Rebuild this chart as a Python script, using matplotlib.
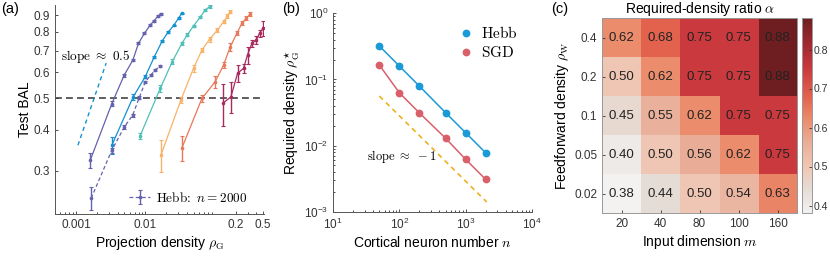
import matplotlib
matplotlib.use("Agg")
import matplotlib.pyplot as plt
from matplotlib.colors import LinearSegmentedColormap
from matplotlib.lines import Line2D
from matplotlib.ticker import FixedLocator, LogLocator, NullFormatter, NullLocator

plt.rcParams["font.family"] = ["Liberation Sans", "DejaVu Sans"]
plt.rcParams["mathtext.fontset"] = "cm"
plt.rcParams["font.size"] = 8.5
plt.rcParams["axes.linewidth"] = 0.7

# ---- panel (a): test BAL vs projection density, SGD for several n, Hebb n=2000
sgd_2000_rho = [0.00161, 0.0033, 0.00497, 0.00662, 0.00798, 0.00973, 0.01178, 0.01343, 0.0152, 0.01694]
sgd_2000_bal = [0.323, 0.482, 0.589, 0.655, 0.737, 0.791, 0.839, 0.864, 0.894, 0.906]
sgd_2000_err = [0.018, 0.008, 0.006, 0.006, 0.006, 0.006, 0.005, 0.005, 0.005, 0.005]

sgd_1000_rho = [0.0033, 0.00669, 0.00996, 0.01343, 0.01763, 0.02138, 0.02566, 0.0303, 0.03367]
sgd_1000_bal = [0.359, 0.505, 0.582, 0.669, 0.751, 0.798, 0.836, 0.882, 0.911]
sgd_1000_err = [0.021, 0.012, 0.006, 0.006, 0.006, 0.005, 0.005, 0.005, 0.005]

sgd_500_rho = [0.00839, 0.0164, 0.02443, 0.03367, 0.04018, 0.0495, 0.0618, 0.073, 0.0848]
sgd_500_bal = [0.383, 0.536, 0.647, 0.737, 0.782, 0.833, 0.887, 0.932, 0.956]
sgd_500_err = [0.008, 0.012, 0.012, 0.008, 0.008, 0.008, 0.008, 0.008, 0.008]

sgd_200_rho = [0.01679, 0.03258, 0.0495, 0.0654, 0.0842, 0.1097, 0.134, 0.1528, 0.167]
sgd_200_bal = [0.335, 0.494, 0.618, 0.703, 0.758, 0.81, 0.858, 0.894, 0.921]
sgd_200_err = [0.037, 0.01, 0.015, 0.012, 0.012, 0.012, 0.01, 0.01, 0.01]

sgd_100_rho = [0.03367, 0.0654, 0.1017, 0.134, 0.167, 0.209, 0.2466, 0.2844, 0.325]
sgd_100_bal = [0.352, 0.4995, 0.562, 0.632, 0.719, 0.791, 0.849, 0.879, 0.906]
sgd_100_err = [0.031, 0.012, 0.025, 0.012, 0.02, 0.012, 0.012, 0.012, 0.012]

sgd_50_rho = [0.1313, 0.171, 0.2133, 0.26, 0.297, 0.3436, 0.3963, 0.4424, 0.495]
sgd_50_bal = [0.483, 0.505, 0.596, 0.618, 0.679, 0.737, 0.754, 0.791, 0.819]
sgd_50_err = [0.072, 0.055, 0.035, 0.02, 0.04, 0.02, 0.02, 0.02, 0.043]

hebb_2000_rho = [0.00166, 0.0033, 0.00497, 0.00658, 0.00817, 0.00997, 0.01197, 0.0139, 0.01612]
hebb_2000_bal = [0.247, 0.347, 0.408, 0.444, 0.502, 0.561, 0.589, 0.61, 0.628]
hebb_2000_err = [0.02, 0.006, 0.005, 0.005, 0.005, 0.005, 0.005, 0.005, 0.005]

slope_x = [0.00107, 0.00273]
slope_y = [0.359, 0.641]

curve_colors = ["#6462ac", "#1591d1", "#4fc0b8", "#f8b26a", "#e8785a", "#a82a5e"]

# ---- panel (b): required density vs n
neurons = [50, 100, 200, 500, 1000, 2000]
rho_hebb = [0.32, 0.1595, 0.0795, 0.0313, 0.0156, 0.00778]
rho_sgd = [0.165, 0.0629, 0.0313, 0.01285, 0.00618, 0.00308]
ref_n = [50, 2080]
ref_rho = [0.056, 0.0014]

# ---- panel (c): required-density ratio heatmap
input_dims = ["20", "40", "80", "100", "160"]
ff_density = ["0.4", "0.2", "0.1", "0.05", "0.02"]
ratio = [
    [0.62, 0.68, 0.75, 0.75, 0.88],
    [0.50, 0.62, 0.75, 0.75, 0.88],
    [0.45, 0.55, 0.62, 0.75, 0.75],
    [0.40, 0.50, 0.56, 0.62, 0.75],
    [0.38, 0.44, 0.50, 0.54, 0.63],
]

W, H = 830, 258
fig = plt.figure(figsize=(W / 100, H / 100), dpi=100)


def box(l, t, r, b):
    return [l / W, 1 - b / H, (r - l) / W, (b - t) / H]


# ================= (a)
ax = fig.add_axes(box(55, 5, 264.4, 214))
ax.set_xscale("log")
ax.set_yscale("log")

ax.axhline(0.5, color="#333333", lw=1.1, ls=(0, (4.5, 2.7)), zorder=1)
ax.plot(slope_x, slope_y, color="#1591d1", lw=1.0, ls=(0, (3, 2.5)))

curves = [
    (sgd_2000_rho, sgd_2000_bal, sgd_2000_err),
    (sgd_1000_rho, sgd_1000_bal, sgd_1000_err),
    (sgd_500_rho, sgd_500_bal, sgd_500_err),
    (sgd_200_rho, sgd_200_bal, sgd_200_err),
    (sgd_100_rho, sgd_100_bal, sgd_100_err),
    (sgd_50_rho, sgd_50_bal, sgd_50_err),
]
for (r, b, e), c in zip(curves, curve_colors):
    ax.errorbar(r, b, yerr=e, color=c, lw=0.9, elinewidth=1.0, capsize=1.5,
                capthick=0.8, marker="o", ms=1.6)

hb = ax.errorbar(hebb_2000_rho, hebb_2000_bal, yerr=hebb_2000_err, color=curve_colors[0],
                 lw=0.9, ls=(0, (3, 2)), elinewidth=1.0, capsize=1.5, capthick=0.8,
                 marker="o", ms=1.6)

ax.text(0.00062, 0.67, r"$\mathrm{slope}\ \approx\ 0.5$", fontsize=9.5, va="center")
ax.legend([hb], [r"$\mathrm{Hebb\!:}\ n = 2000$"], loc="lower left",
          bbox_to_anchor=(0.33, 0.02), frameon=False, fontsize=9.5,
          handlelength=1.6, handletextpad=0.4, borderaxespad=0)

ax.set_xlim(0.0005, 0.52)
ax.set_ylim(0.221, 0.966)
ax.xaxis.set_major_locator(FixedLocator([0.001, 0.01, 0.2, 0.5]))
ax.set_xticklabels(["0.001", "0.01", "0.2", "0.5"])
ax.xaxis.set_minor_locator(LogLocator(base=10, subs=range(2, 10)))
ax.xaxis.set_minor_formatter(NullFormatter())
ax.yaxis.set_major_locator(FixedLocator([0.3, 0.4, 0.5, 0.6, 0.7, 0.8, 0.9]))
ax.set_yticklabels(["0.3", "0.4", "0.5", "0.6", "0.7", "0.8", "0.9"])
ax.yaxis.set_minor_locator(NullLocator())
ax.tick_params(direction="in", length=2.5, width=0.6, labelsize=8.5, colors="#333333")
ax.tick_params(which="minor", direction="in", length=1.3, width=0.5)
for s in ["top", "right"]:
    ax.spines[s].set_visible(False)
for s in ["left", "bottom"]:
    ax.spines[s].set_color("#555555")
ax.set_xlabel(r"Projection density $\rho_\mathrm{G}$", fontsize=10, labelpad=2)
ax.set_ylabel("Test BAL", fontsize=10, labelpad=1)

# ================= (b)
bx = fig.add_axes(box(333, 13.3, 532, 211.7))
bx.set_xscale("log")
bx.set_yscale("log")
bx.plot(ref_n, ref_rho, color="#EDB120", lw=1.2, ls=(0, (3, 2.5)))
bx.plot(neurons, rho_hebb, color="#1a9bd7", lw=1.1, marker="o", ms=4.6)
bx.plot(neurons, rho_sgd, color="#d9606a", lw=1.1, marker="o", ms=4.6)
bx.text(33, 0.0068, r"$\mathrm{slope}\ \approx\ -1$", fontsize=9, va="center")

leg_handles = [Line2D([], [], ls="none", marker="o", ms=4.6, color="#1a9bd7"),
               Line2D([], [], ls="none", marker="o", ms=4.6, color="#d9606a")]
bx.legend(leg_handles, [r"$\mathrm{Hebb}$", r"$\mathrm{SGD}$"], loc="upper left",
          bbox_to_anchor=(0.6, 0.97), frameon=False, fontsize=11,
          handlelength=1.0, handletextpad=0.5, labelspacing=0.25, borderaxespad=0)

bx.set_xlim(10, 1e4)
bx.set_ylim(1e-3, 1)
bx.xaxis.set_major_locator(LogLocator(base=10, numticks=10))
bx.yaxis.set_major_locator(LogLocator(base=10, numticks=10))
bx.xaxis.set_minor_locator(LogLocator(base=10, subs=range(2, 10), numticks=20))
bx.yaxis.set_minor_locator(LogLocator(base=10, subs=range(2, 10), numticks=20))
bx.xaxis.set_minor_formatter(NullFormatter())
bx.yaxis.set_minor_formatter(NullFormatter())
bx.tick_params(direction="in", length=2.5, width=0.6, labelsize=8.5, colors="#333333")
bx.tick_params(which="minor", direction="in", length=1.3, width=0.5)
for s in ["top", "right"]:
    bx.spines[s].set_visible(False)
for s in ["left", "bottom"]:
    bx.spines[s].set_color("#555555")
bx.set_xlabel(r"Cortical neuron number $n$", fontsize=10, labelpad=2)
bx.set_ylabel(r"Required density $\rho^{\star}_\mathrm{G}$", fontsize=10, labelpad=1)

# ================= (c)
cmap = LinearSegmentedColormap.from_list("ratio", [
    (0.0, "#f3f2f1"), (0.12, "#e6dcd6"), (0.24, "#efc6b3"), (0.36, "#e9ae98"),
    (0.48, "#ec8c6c"), (0.60, "#e2624e"), (0.74, "#cb3a3e"), (0.86, "#a52a30"),
    (1.0, "#6e1e20")])
cx = fig.add_axes(box(602, 18.3, 797, 213.3))
im = cx.imshow(ratio, cmap=cmap, vmin=0.38, vmax=0.88, aspect="auto")
for i in range(len(ff_density)):
    for j in range(len(input_dims)):
        cx.text(j, i, f"{ratio[i][j]:.2f}", ha="center", va="center", fontsize=9.5,
                color="#222222")
cx.set_xticks(range(len(input_dims)))
cx.set_xticklabels(input_dims)
cx.set_yticks(range(len(ff_density)))
cx.set_yticklabels(ff_density)
cx.tick_params(direction="in", length=2, width=0.6, labelsize=8.5, colors="#333333")
for s in cx.spines.values():
    s.set_color("#999999")
    s.set_linewidth(0.7)
cx.set_title(r"Required-density ratio $\alpha$", fontsize=10, pad=3)
cx.set_xlabel(r"Input dimension $m$", fontsize=10, labelpad=2)
cx.set_ylabel(r"Feedforward density $\rho_\mathrm{W}$", fontsize=10, labelpad=2)

cax = fig.add_axes(box(802, 18.3, 812, 213.3))
cb = fig.colorbar(im, cax=cax, ticks=[0.4, 0.5, 0.6, 0.7, 0.8])
cb.outline.set_edgecolor("#999999")
cb.outline.set_linewidth(0.7)
cax.tick_params(direction="in", length=2, width=0.6, labelsize=7.5, colors="#333333", pad=1.5)

fig.text(1 / W, 1 - 2 / H, "(a)", fontsize=10.5, va="top")
fig.text(282 / W, 1 - 2 / H, "(b)", fontsize=10.5, va="top")
fig.text(551 / W, 1 - 2 / H, "(c)", fontsize=10.5, va="top")

fig.savefig("out.png", dpi=100)
